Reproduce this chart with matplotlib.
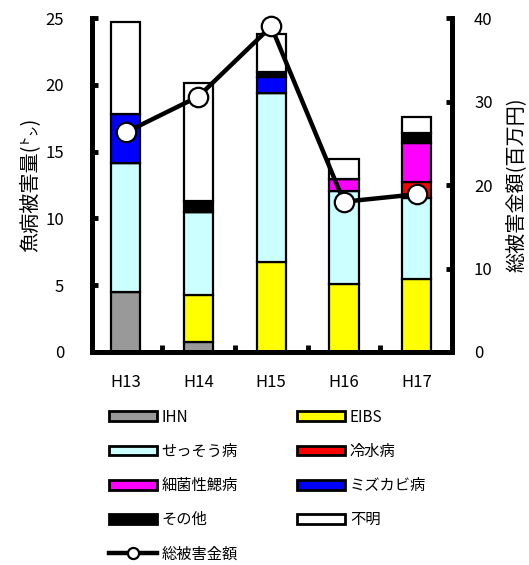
import numpy as np
import matplotlib
matplotlib.use('Agg')
import matplotlib.pyplot as plt
from matplotlib.patches import Patch
from matplotlib.lines import Line2D

plt.rcParams['font.family'] = ['Noto Sans CJK JP', 'DejaVu Sans']

# ── data ─────────────────────────────────────────────────────────────────────
years = ['H13', 'H14', 'H15', 'H16', 'H17']

ihn      = [4.5, 0.77, 0.0, 0.0, 0.0]
eibs     = [0.0, 3.5, 6.76, 5.06, 5.46]
sessou   = [9.65, 6.23, 12.64, 7.0, 6.07]
reisui   = [0.0, 0.0, 0.0, 0.0, 1.17]
saikin   = [0.0, 0.0, 0.0, 0.9, 2.93]
mizukabi = [3.65, 0.0, 1.16, 0.0, 0.0]
sonota   = [0.0, 0.83, 0.42, 0.0, 0.8]
fumei    = [6.9, 8.82, 2.82, 1.5, 1.17]

total_yen = [26.3, 30.6, 39.0, 18.0, 18.9]   # 百万円

series = [
    ('IHN',        ihn,      '#999999'),
    ('EIBS',       eibs,     '#ffff00'),
    ('せっそう病', sessou,   '#ccffff'),
    ('冷水病',     reisui,   '#ff0000'),
    ('細菌性鰓病', saikin,   '#ff00ff'),
    ('ミズカビ病', mizukabi, '#0000ff'),
    ('その他',     sonota,   '#000000'),
    ('不明',       fumei,    '#ffffff'),
]

# ── figure ───────────────────────────────────────────────────────────────────
fig = plt.figure(figsize=(5.29, 5.65), dpi=100)
ax = fig.add_axes([0.174, 0.377, 0.680, 0.591])
ax2 = ax.twinx()

x = np.arange(len(years))
bottom = np.zeros(len(years))
for name, vals, col in series:
    vals = np.asarray(vals)
    ax.bar(x, vals, 0.4, bottom=bottom, color=col,
           edgecolor='black', linewidth=1.6, zorder=2)
    bottom += vals

ax.set_xlim(-0.46, 4.48)
ax.set_ylim(0, 25)
ax.set_yticks(np.arange(0, 26, 5))
ax.set_xticks(x)
ax.set_xticklabels(years)
ax.set_xticks(np.arange(0.5, 4.0, 1.0), minor=True)

ax2.plot(x, total_yen, color='black', lw=3.2, marker='o', ms=14,
         mfc='white', mec='black', mew=1.6, zorder=5, clip_on=False)
ax2.set_ylim(0, 40)
ax2.set_yticks(np.arange(0, 41, 10))

# line must sit above the bars
ax.set_zorder(1)
ax2.set_zorder(2)
ax.patch.set_visible(False)

for a in (ax, ax2):
    a.spines['top'].set_visible(False)
    for s in ('left', 'right', 'bottom'):
        a.spines[s].set_linewidth(3.5)

ax.tick_params(axis='y', direction='in', length=4, width=3.5,
               labelsize=12, pad=20)
ax.tick_params(axis='x', which='major', length=0, labelsize=12, pad=16)
ax.tick_params(axis='x', which='minor', direction='in', length=5, width=3.5)
ax2.tick_params(axis='y', direction='in', length=4, width=3.5,
                labelsize=12, pad=16)

ax.set_ylabel('魚病被害量(㌧)', fontsize=14.5, labelpad=4)
ax2.set_ylabel('総被害金額(百万円)', fontsize=14.5, labelpad=9)

# ── legend ───────────────────────────────────────────────────────────────────
handles = [Patch(facecolor=col, edgecolor='black', linewidth=2.0, label=name)
           for name, _, col in series]
line_handle = Line2D([], [], color='black', lw=3.2, marker='o', ms=8,
                     mfc='white', mec='black', mew=1.6, label='総被害金額')
# column-major fill: left column then right column
order = [0, 2, 4, 6, 1, 3, 5, 7]
leg_handles = [handles[i] for i in order[:4]] + [line_handle] + \
              [handles[i] for i in order[4:]]
fig.legend(handles=leg_handles, loc='upper left',
           bbox_to_anchor=(0.191, 0.290), ncol=2, frameon=False,
           fontsize=11, borderpad=0, handlelength=3.14, handleheight=0.62,
           handletextpad=0.33, labelspacing=1.12, columnspacing=3.86)

fig.savefig('out.png', dpi=100, facecolor='white')
